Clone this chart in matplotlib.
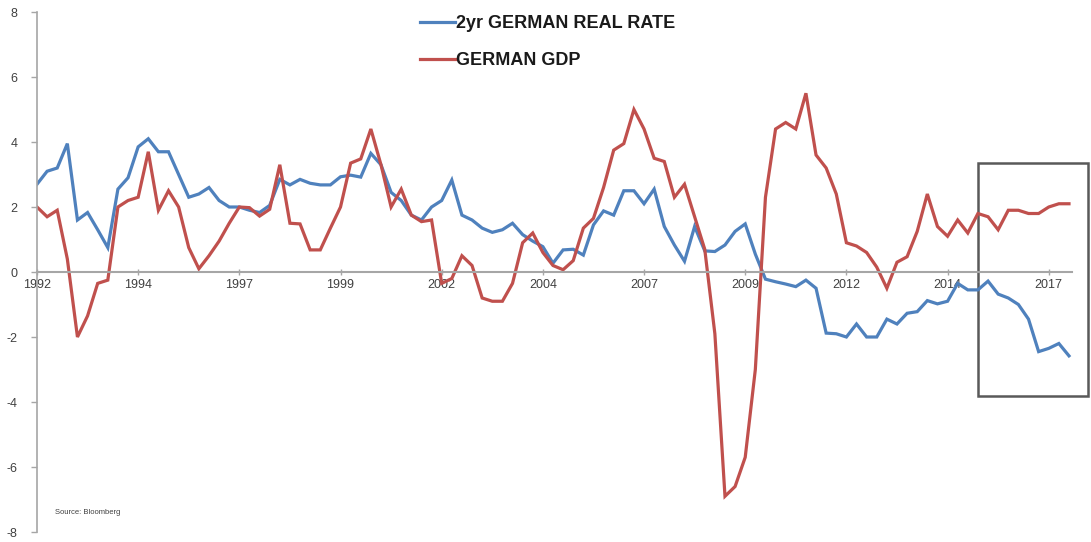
import numpy as np
import matplotlib
matplotlib.use("Agg")
import matplotlib.pyplot as plt
from matplotlib.patches import Rectangle

# quarterly series (1992 Q1 onwards)
real_rate = [
    2.7, 3.1, 3.2, 3.95, 1.6, 1.83, 1.3, 0.75, 2.55, 2.9,
    3.85, 4.1, 3.7, 3.7, 3.0, 2.3, 2.4, 2.6, 2.2, 2.0,
    2.0, 1.9, 1.83, 2.05, 2.85, 2.68, 2.85, 2.73, 2.68, 2.68,
    2.93, 2.98, 2.92, 3.65, 3.3, 2.45, 2.2, 1.75, 1.6, 2.0,
    2.2, 2.83, 1.75, 1.6, 1.35, 1.22, 1.3, 1.5, 1.15, 0.95,
    0.78, 0.27, 0.68, 0.7, 0.52, 1.45, 1.88, 1.75, 2.5, 2.5,
    2.1, 2.55, 1.4, 0.83, 0.33, 1.4, 0.65, 0.63, 0.83, 1.25,
    1.48, 0.55, -0.22, -0.3, -0.37, -0.45, -0.25, -0.5, -1.88, -1.9,
    -2.0, -1.6, -2.0, -2.0, -1.45, -1.6, -1.27, -1.22, -0.88, -0.98,
    -0.9, -0.35, -0.55, -0.55, -0.28, -0.68, -0.8, -1.0, -1.45, -2.45,
    -2.35, -2.2, -2.58,
]
gdp = [
    2.0, 1.7, 1.9, 0.4, -2.0, -1.35, -0.35, -0.25, 2.0, 2.2,
    2.3, 3.7, 1.9, 2.5, 2.0, 0.75, 0.1, 0.5, 0.95, 1.5,
    2.0, 1.98, 1.72, 1.93, 3.3, 1.5, 1.48, 0.68, 0.68, 1.35,
    2.0, 3.35, 3.48, 4.4, 3.3, 2.0, 2.55, 1.75, 1.55, 1.6,
    -0.35, -0.2, 0.5, 0.2, -0.8, -0.9, -0.9, -0.35, 0.9, 1.2,
    0.6, 0.2, 0.07, 0.35, 1.35, 1.65, 2.6, 3.75, 3.95, 5.0,
    4.4, 3.5, 3.4, 2.3, 2.7, 1.7, 0.7, -1.9, -6.9, -6.6,
    -5.7, -3.0, 2.3, 4.4, 4.6, 4.4, 5.5, 3.6, 3.2, 2.4,
    0.9, 0.8, 0.6, 0.15, -0.5, 0.3, 0.47, 1.25, 2.4, 1.4,
    1.1, 1.6, 1.2, 1.8, 1.7, 1.3, 1.9, 1.9, 1.8, 1.8,
    2.0, 2.1, 2.1,
]
tick_labels = ["1992", "1994", "1997", "1999", "2002", "2004",
               "2007", "2009", "2012", "2014", "2017"]
tick_every = 10  # one label per 10 quarters, like the excel category axis

blue = "#4F81BD"
red = "#C0504D"
grey = "#A6A6A6"

plt.rcParams["font.family"] = ["Liberation Sans", "DejaVu Sans"]
plt.rcParams["axes.unicode_minus"] = False

fig = plt.figure(figsize=(10.91, 5.42), dpi=100)
ax = fig.add_axes([0.0339, 0.01845, 0.9487, 0.9594])

x = np.arange(len(real_rate))
ax.plot(x, real_rate, color=blue, linewidth=2.3, label="2yr GERMAN REAL RATE",
        solid_joinstyle="miter")
ax.plot(x, gdp, color=red, linewidth=2.3, label="GERMAN GDP",
        solid_joinstyle="miter")

ax.set_xlim(0, 102.3)
ax.set_ylim(-8, 8)
ax.set_yticks(np.arange(-8, 9, 2))
ax.set_xticks(np.arange(len(tick_labels)) * tick_every)
ax.set_xticklabels(tick_labels)

for s in ["top", "right"]:
    ax.spines[s].set_visible(False)
ax.spines["bottom"].set_position(("data", 0))
ax.spines["bottom"].set_color(grey)
ax.spines["bottom"].set_linewidth(1.5)
ax.spines["left"].set_color(grey)
ax.spines["left"].set_linewidth(1.2)

ax.tick_params(axis="y", direction="out", length=4, width=1, color=grey,
               labelsize=9, labelcolor="#404040", pad=10)
ax.tick_params(axis="x", direction="inout", length=4, width=1, color=grey,
               labelsize=9, labelcolor="#404040", pad=3)

# highlight box around the last years
ax.add_patch(Rectangle((93.0, -3.82), 10.9, 7.18, fill=False,
                       edgecolor="#595959", linewidth=1.8, clip_on=False))

leg = ax.legend(loc="upper left", bbox_to_anchor=(0.370, 0.994),
                frameon=False, handlelength=1.95, handletextpad=0.05,
                labelspacing=1.12, borderpad=0, borderaxespad=0,
                prop={"weight": "bold", "size": 13})
for t in leg.get_texts():
    t.set_color("#1a1a1a")

ax.text(0.017, 0.035, "Source: Bloomberg", transform=ax.transAxes,
        fontsize=5.5, color="#404040")

plt.savefig("out.png", dpi=100)
